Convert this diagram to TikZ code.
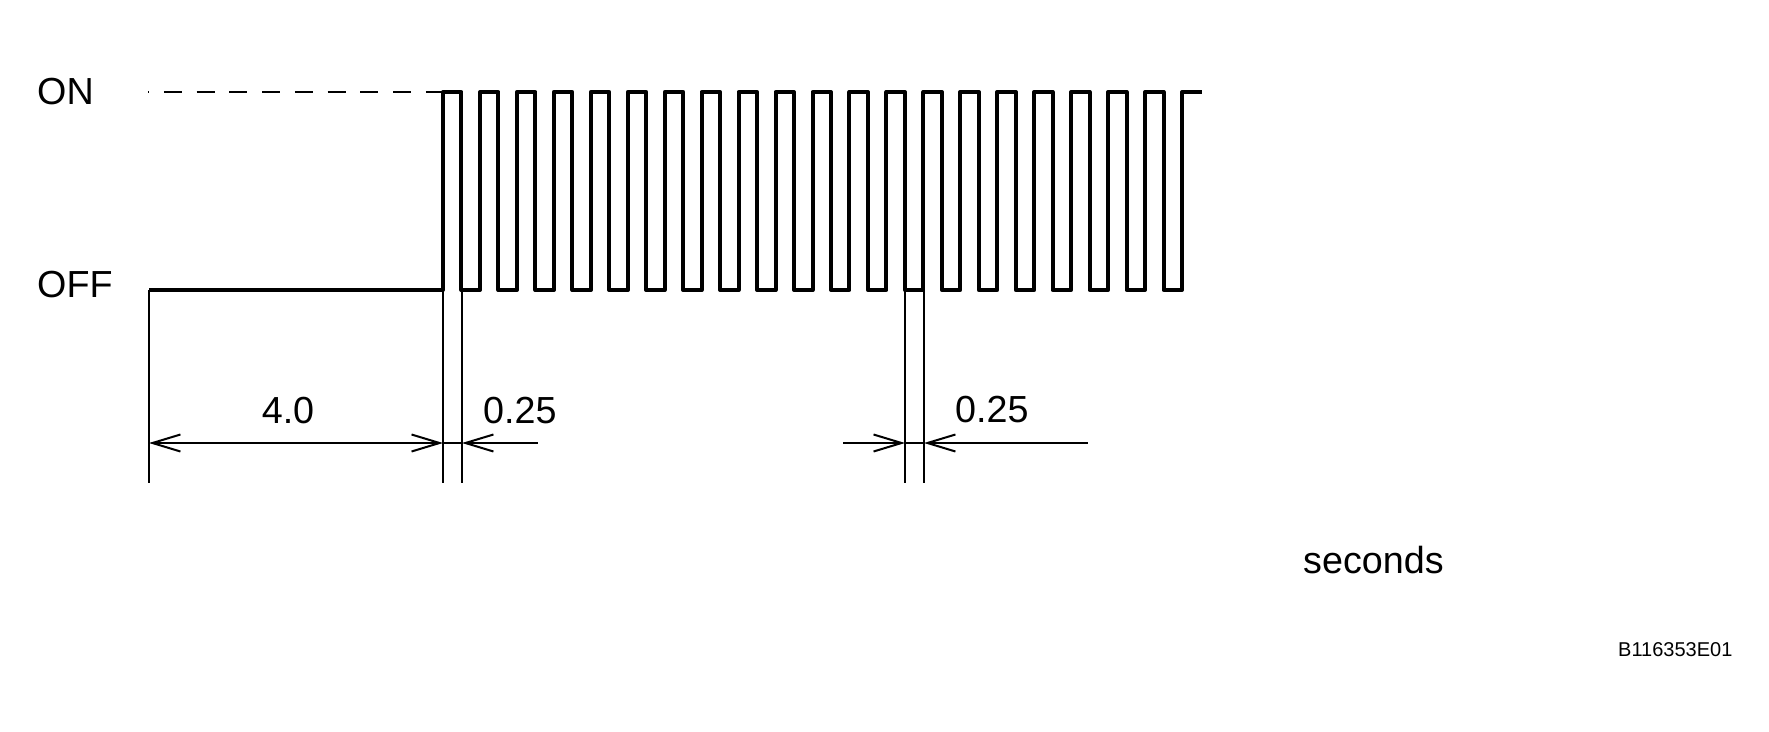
\documentclass[tikz,border=0pt]{standalone}
\usepackage{fontspec}
\setmainfont{Liberation Sans}
\usetikzlibrary{arrows.meta, positioning}

\begin{document}
\begin{tikzpicture}[x=1pt,y=-1pt,
    >={Straight Barb[length=28pt,width=17pt]},
    lbl/.style={inner sep=0pt,anchor=base west,font=\fontsize{37.7}{40}\selectfont},
    dim/.style={line width=2pt},
    wave/.style={line width=4pt,line join=round}]
      \useasboundingbox (0,0) rectangle (1769,731);

      \coordinate (s) at (149,290);
      \coordinate (r) at (443,290);
      \coordinate (f) at (462,290);
      \coordinate (l1) at (905,290);
      \coordinate (l2) at (924,290);

      \node[lbl] (on) at (37,104) {ON};
      \node[lbl] (off) at (37,297) {OFF};

      \draw[line width=2.5pt,dash pattern=on 18pt off 14.75pt,dash phase=17pt]
        (148,92) -- (r |- 0,92);
      \draw[wave] (s) -- (r) -- ++(0,-198)
        \foreach \i in {1,...,20}{ -- ++(18.475,0) -- ++(0,198) -- ++(18.475,0) -- ++(0,-198)}
        -- ++(20,0);

      \foreach \p in {s,r,f,l1,l2}{
        \draw[dim] (\p) -- ++(0,193);
      }

      \draw[dim,<->] (s |- 0,443) -- (r |- 0,443);
      \draw[dim] (r |- 0,443) -- (f |- 0,443);
      \draw[dim,<-] (f |- 0,443) -- (538,443);
      \draw[dim,->] (843,443) -- (l1 |- 0,443);
      \draw[dim] (l1 |- 0,443) -- (l2 |- 0,443);
      \draw[dim,<-] (l2 |- 0,443) -- (1088,443);

      \node[lbl,anchor=base] (t0) at (288,423) {4.0};
      \node[lbl] (t1) at (483,423) {0.25};
      \node[lbl] (t2) at (955,422) {0.25};
      \node[lbl] (sec) at (1303,573) {seconds};
      \node[lbl,font=\fontsize{20}{22}\selectfont] (id) at (1618,656) {B116353E01};
\end{tikzpicture}
\end{document}
